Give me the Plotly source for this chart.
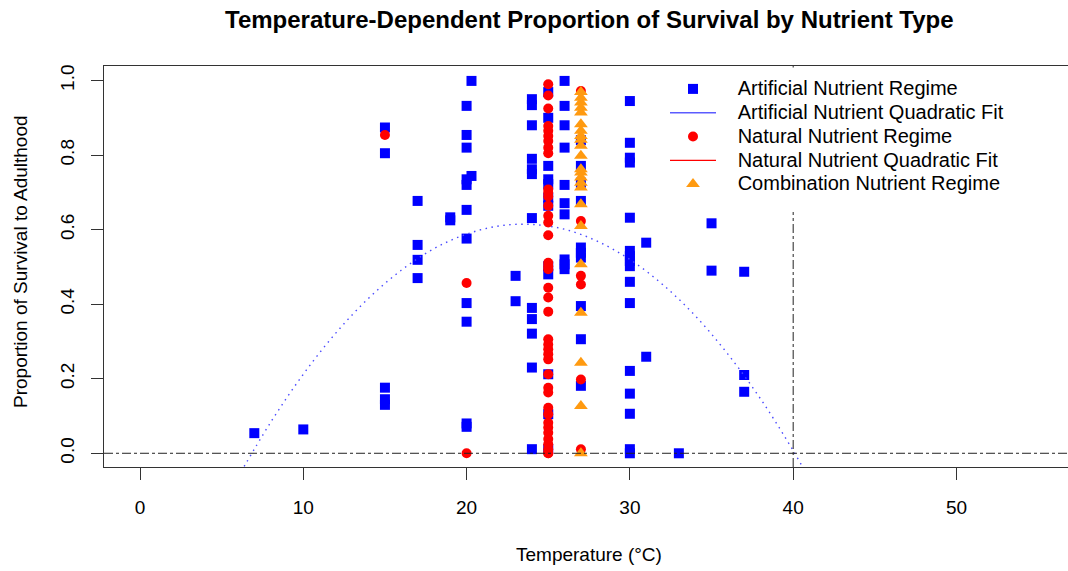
import plotly.graph_objects as go

# ---------------- data ----------------
# Artificial nutrient regime (blue squares)
art_temp = [7,
            10,
            15, 15, 15, 15, 15,
            17, 17, 17, 17,
            19, 19,
            20, 20, 20, 20, 20, 20, 20, 20, 20, 20, 20,
            20.3, 20.3,
            23, 23,
            24, 24, 24, 24, 24, 24, 24, 24, 24, 24, 24, 24,
            25, 25, 25, 25, 25, 25, 25, 25, 25, 25, 25, 25,
            26, 26, 26, 26, 26, 26, 26, 26, 26, 26,
            27, 27, 27, 27, 27, 27, 27, 27, 27, 27,
            30, 30, 30, 30, 30, 30, 30, 30, 30, 30, 30, 30, 30, 30, 30, 30,
            31, 31,
            33,
            35, 35,
            37, 37, 37]
art_prop = [0.054,
            0.064,
            0.874, 0.805, 0.176, 0.145, 0.130,
            0.677, 0.559, 0.519, 0.470,
            0.633, 0.625,
            0.932, 0.854, 0.820, 0.735, 0.720, 0.653, 0.576, 0.403, 0.353, 0.080, 0.071,
            0.999, 0.744,
            0.476, 0.408,
            0.950, 0.934, 0.880, 0.790, 0.762, 0.749, 0.631, 0.390, 0.360, 0.321, 0.230, 0.011,
            0.969, 0.900, 0.771, 0.735, 0.722, 0.686, 0.664, 0.502, 0.480, 0.212, 0.105, 0.011,
            0.999, 0.932, 0.880, 0.820, 0.720, 0.671, 0.641, 0.520, 0.507, 0.494,
            0.840, 0.771, 0.726, 0.677, 0.552, 0.538, 0.525, 0.395, 0.306, 0.181,
            0.945, 0.833, 0.793, 0.780, 0.632, 0.543, 0.529, 0.516, 0.502, 0.460, 0.403, 0.221, 0.160, 0.106, 0.011, 0.0,
            0.565, 0.259,
            0.0,
            0.617, 0.490,
            0.487, 0.210, 0.165]

# Natural nutrient regime (red circles)
nat_temp = [15,
            20, 20,
            25, 25, 25, 25, 25, 25, 25, 25, 25, 25, 25, 25, 25, 25, 25, 25, 25, 25, 25, 25,
            25, 25, 25, 25, 25, 25, 25, 25, 25, 25, 25, 25, 25, 25, 25, 25, 25, 25, 25, 25,
            27, 27, 27, 27, 27, 27]
nat_prop = [0.854,
            0.457, 0.0,
            0.990, 0.960, 0.925, 0.878, 0.865, 0.851, 0.838, 0.820, 0.805, 0.708, 0.699, 0.689,
            0.664, 0.637, 0.619, 0.585, 0.511, 0.502, 0.494, 0.444,
            0.418, 0.380, 0.306, 0.292, 0.279, 0.266, 0.252, 0.212, 0.176, 0.163, 0.122, 0.105,
            0.082, 0.069, 0.055, 0.038, 0.024, 0.011, 0.0, 0.0,
            0.972, 0.623, 0.476, 0.453, 0.198, 0.011]

# Combination nutrient regime (orange triangles)
comb_temp = [27] * 23
comb_prop = [0.969, 0.954, 0.941, 0.927, 0.914, 0.883, 0.865, 0.851, 0.841, 0.825,
             0.798, 0.762, 0.753, 0.740, 0.726, 0.713, 0.668, 0.610, 0.507, 0.377,
             0.243, 0.127, 0.0]

# Artificial quadratic fit
fit_temp = [6, 8, 10, 12, 14, 16, 18, 20, 22, 24, 26, 28, 30, 32, 34, 36, 38, 40, 42]
fit_prop = [-0.064, 0.083, 0.212, 0.323, 0.416, 0.491, 0.549, 0.588, 0.610, 0.614,
            0.601, 0.569, 0.520, 0.453, 0.369, 0.266, 0.146, 0.007, -0.149]

ref_temp = 40    # vertical dot-dash reference line
ref_prop = 0     # horizontal dot-dash reference line

x_ticks = [0, 10, 20, 30, 40, 50]
y_ticks = [0.0, 0.2, 0.4, 0.6, 0.8, 1.0]
y_tick_text = ["0.0", "0.2", "0.4", "0.6", "0.8", "1.0"]

TITLE = "Temperature-Dependent Proportion of Survival by Nutrient Type"
X_TITLE = "Temperature (°C)"
Y_TITLE = "Proportion of Survival to Adulthood"
LEGEND_NAMES = ["Artificial Nutrient Regime", "Artificial Nutrient Quadratic Fit",
                "Natural Nutrient Regime", "Natural Nutrient Quadratic Fit",
                "Combination Nutrient Regime"]

# ---------------- figure ----------------
FONT = "Liberation Sans, Arial, Helvetica, sans-serif"
W, H = 1068, 571
ML, MR, MT, MB = 104, 0, 66, 104
PW, PH = W - ML - MR, H - MT - MB


def px_x(p):
    return (p - ML) / PW


def px_y(p):
    return (H - MB - p) / PH


def leg(name):
    # larger glyphs than the legend's nominal size keep R's tight row spacing
    return '<span style="font-size:20px">\u00a0\u00a0\u00a0' + name + '</span>'


fig = go.Figure()

fig.add_trace(go.Scatter(
    x=art_temp, y=art_prop, mode="markers", name=leg(LEGEND_NAMES[0]),
    marker=dict(symbol="square", size=10, color="#0000FF", line=dict(width=0)),
))
# dotted fit curve in the plot (legend entry drawn solid, as in the reference)
fig.add_trace(go.Scatter(
    x=fit_temp, y=fit_prop, mode="lines", name=LEGEND_NAMES[1], showlegend=False,
    legendgroup="artfit",
    line=dict(color="#4a4aff", width=1.4, dash="1.5px,4.5px", shape="spline"),
))
fig.add_trace(go.Scatter(
    x=[None], y=[None], mode="lines", name=leg(LEGEND_NAMES[1]), legendgroup="artfit",
    line=dict(color="#5c5cff", width=1.4),
))
fig.add_trace(go.Scatter(
    x=nat_temp, y=nat_prop, mode="markers", name=leg(LEGEND_NAMES[2]),
    marker=dict(symbol="circle", size=10, color="#FF0000", line=dict(width=0)),
))
fig.add_trace(go.Scatter(
    x=[None], y=[None], mode="lines", name=leg(LEGEND_NAMES[3]),
    line=dict(color="#FF0000", width=1.2),
))
fig.add_trace(go.Scatter(
    x=comb_temp, y=comb_prop, mode="markers", name=leg(LEGEND_NAMES[4]),
    marker=dict(symbol="triangle-up", size=12, color="#FF9A10", line=dict(width=0)),
))

shapes = [
    dict(type="line", xref="paper", yref="y", x0=0, x1=1, y0=ref_prop, y1=ref_prop,
         line=dict(color="#222222", width=1, dash="dashdot"), layer="above"),
    dict(type="line", xref="x", yref="paper", x0=ref_temp, x1=ref_temp, y0=0, y1=1,
         line=dict(color="#222222", width=1, dash="dashdot"), layer="above"),
    # legend background (white, no border)
    dict(type="rect", xref="paper", yref="paper", x0=px_x(663), x1=1, y0=px_y(212), y1=px_y(67.5),
         fillcolor="white", line=dict(width=0), layer="above"),
]

annotations = [
    dict(text="<b>" + TITLE + "</b>", xref="paper", yref="paper", x=px_x(589), y=px_y(19),
         xanchor="center", yanchor="middle", showarrow=False,
         font=dict(family=FONT, size=24, color="#000000")),
    dict(text=X_TITLE, xref="paper", yref="paper", x=px_x(589), y=px_y(554),
         xanchor="center", yanchor="middle", showarrow=False,
         font=dict(family=FONT, size=19, color="#000000")),
    dict(text=Y_TITLE, xref="paper", yref="paper", x=px_x(20), y=px_y(262),
         xanchor="center", yanchor="middle", showarrow=False, textangle=-90,
         font=dict(family=FONT, size=19, color="#000000")),
]

fig.update_layout(
    width=W, height=H,
    margin=dict(l=ML, r=MR, t=MT, b=MB, pad=0),
    paper_bgcolor="white", plot_bgcolor="white",
    font=dict(family=FONT, size=19, color="#000000"),
    showlegend=True,
    legend=dict(x=px_x(665), y=px_y(72), xanchor="left", yanchor="top",
                bgcolor="rgba(0,0,0,0)", borderwidth=0, itemwidth=46,
                font=dict(family=FONT, size=16, color="#000000"), tracegroupgap=0),
    shapes=shapes,
    annotations=annotations,
)

fig.update_xaxes(
    range=[-2.205, 56.83], tickvals=x_ticks, ticktext=[str(t) for t in x_ticks],
    showgrid=False, zeroline=False, showline=True, linecolor="#333333", linewidth=1,
    mirror=True, ticks="outside", ticklen=12, tickcolor="#333333", tickwidth=1,
    tickfont=dict(family=FONT, size=19, color="#000000"), ticklabelstandoff=11,
)
fig.update_yaxes(
    range=[-0.0368, 1.039], tickvals=y_ticks, ticktext=y_tick_text,
    showgrid=False, zeroline=False, showline=True, linecolor="#333333", linewidth=1,
    mirror=False, ticks="outside", ticklen=12, tickcolor="#333333", tickwidth=1,
    tickangle=-90, tickfont=dict(family=FONT, size=19, color="#000000"), ticklabelstandoff=9,
)

fig.write_html("out.html", config={"displayModeBar": False},
               post_script="document.body.style.margin='0';document.body.style.padding='0';")
